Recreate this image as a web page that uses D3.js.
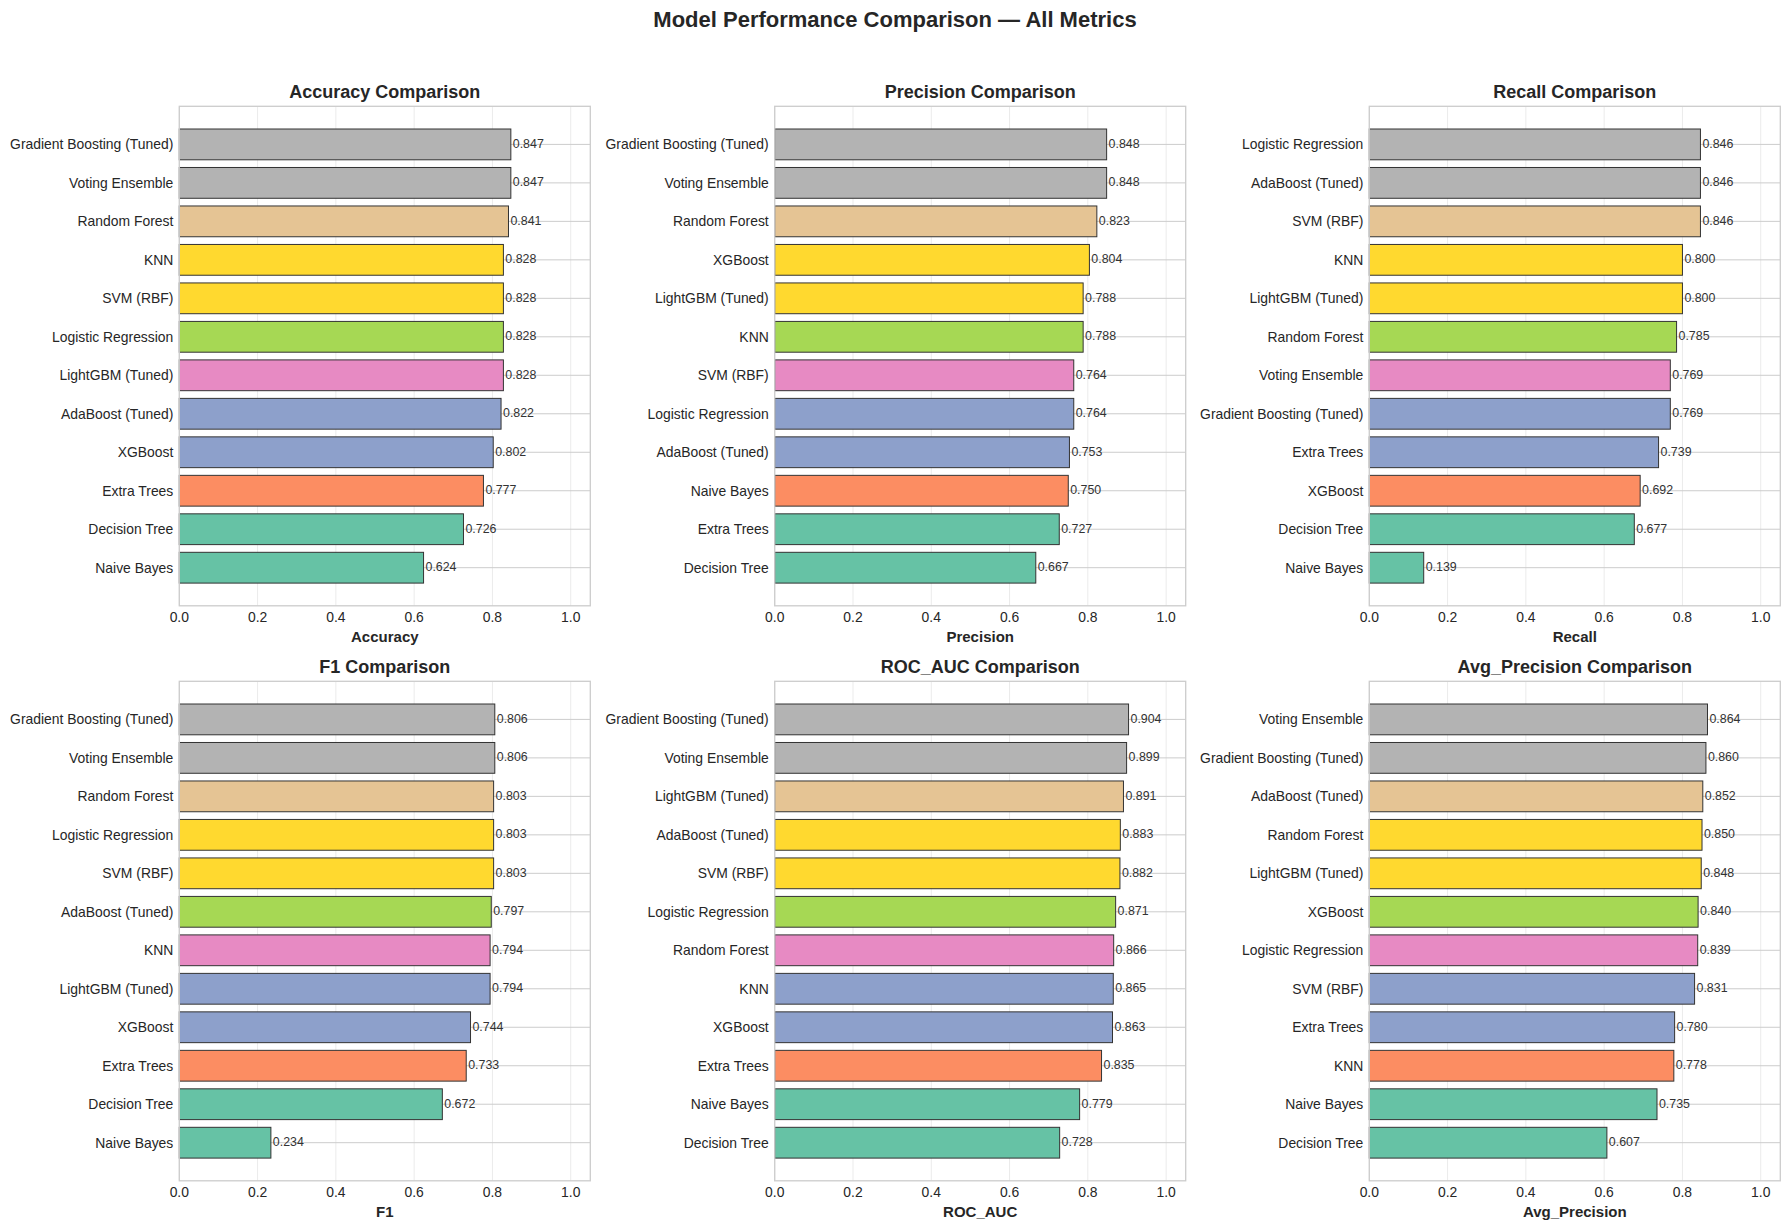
<!DOCTYPE html>
<html>
<head>
<meta charset="utf-8">
<script src="https://cdn.jsdelivr.net/npm/d3@7"></script>
<style>
  body { margin: 0; background: #fff; }
  svg { font-family: "Liberation Sans", Arial, sans-serif; }
</style>
</head>
<body>
<div id="chart"></div>
<script>
// models are listed top to bottom, as they appear in each panel
var accuracyModels = ['Gradient Boosting (Tuned)', 'Voting Ensemble', 'Random Forest', 'KNN', 'SVM (RBF)', 'Logistic Regression', 'LightGBM (Tuned)', 'AdaBoost (Tuned)', 'XGBoost', 'Extra Trees', 'Decision Tree', 'Naive Bayes'];
var accuracyValues = [0.847, 0.847, 0.841, 0.828, 0.828, 0.828, 0.828, 0.822, 0.802, 0.777, 0.726, 0.624];

var precisionModels = ['Gradient Boosting (Tuned)', 'Voting Ensemble', 'Random Forest', 'XGBoost', 'LightGBM (Tuned)', 'KNN', 'SVM (RBF)', 'Logistic Regression', 'AdaBoost (Tuned)', 'Naive Bayes', 'Extra Trees', 'Decision Tree'];
var precisionValues = [0.848, 0.848, 0.823, 0.804, 0.788, 0.788, 0.764, 0.764, 0.753, 0.750, 0.727, 0.667];

var recallModels = ['Logistic Regression', 'AdaBoost (Tuned)', 'SVM (RBF)', 'KNN', 'LightGBM (Tuned)', 'Random Forest', 'Voting Ensemble', 'Gradient Boosting (Tuned)', 'Extra Trees', 'XGBoost', 'Decision Tree', 'Naive Bayes'];
var recallValues = [0.846, 0.846, 0.846, 0.800, 0.800, 0.785, 0.769, 0.769, 0.739, 0.692, 0.677, 0.139];

var f1Models = ['Gradient Boosting (Tuned)', 'Voting Ensemble', 'Random Forest', 'Logistic Regression', 'SVM (RBF)', 'AdaBoost (Tuned)', 'KNN', 'LightGBM (Tuned)', 'XGBoost', 'Extra Trees', 'Decision Tree', 'Naive Bayes'];
var f1Values = [0.806, 0.806, 0.803, 0.803, 0.803, 0.797, 0.794, 0.794, 0.744, 0.733, 0.672, 0.234];

var rocModels = ['Gradient Boosting (Tuned)', 'Voting Ensemble', 'LightGBM (Tuned)', 'AdaBoost (Tuned)', 'SVM (RBF)', 'Logistic Regression', 'Random Forest', 'KNN', 'XGBoost', 'Extra Trees', 'Naive Bayes', 'Decision Tree'];
var rocValues = [0.904, 0.899, 0.891, 0.883, 0.882, 0.871, 0.866, 0.865, 0.863, 0.835, 0.779, 0.728];

var apModels = ['Voting Ensemble', 'Gradient Boosting (Tuned)', 'AdaBoost (Tuned)', 'Random Forest', 'LightGBM (Tuned)', 'XGBoost', 'Logistic Regression', 'SVM (RBF)', 'Extra Trees', 'KNN', 'Naive Bayes', 'Decision Tree'];
var apValues = [0.864, 0.860, 0.852, 0.850, 0.848, 0.840, 0.839, 0.831, 0.780, 0.778, 0.735, 0.607];

var metricNames = ['Accuracy', 'Precision', 'Recall', 'F1', 'ROC_AUC', 'Avg_Precision'];
var xTicks = [0, 0.2, 0.4, 0.6, 0.8, 1.0];

// Set2 colours by bar position, top to bottom
var barColors = ['#b3b3b3', '#b3b3b3', '#e5c494', '#ffd92f', '#ffd92f', '#a6d854', '#e78ac3', '#8da0cb', '#8da0cb', '#fc8d62', '#66c2a5', '#66c2a5'];

var metrics = [
    { name: metricNames[0], models: accuracyModels, values: accuracyValues },
    { name: metricNames[1], models: precisionModels, values: precisionValues },
    { name: metricNames[2], models: recallModels, values: recallValues },
    { name: metricNames[3], models: f1Models, values: f1Values },
    { name: metricNames[4], models: rocModels, values: rocValues },
    { name: metricNames[5], models: apModels, values: apValues }
];

var W = 1790, H = 1229;
var panelW = 411, panelH = 499.5;
var lefts = [179.3, 774.7, 1369.3];
var tops = [106.3, 681.3];

var svg = d3.select('#chart').append('svg')
    .attr('width', W)
    .attr('height', H);

svg.append('text')
    .attr('x', W / 2)
    .attr('y', 27)
    .attr('text-anchor', 'middle')
    .style('font-size', '22px')
    .style('font-weight', 'bold')
    .style('fill', '#262626')
    .text('Model Performance Comparison \u2014 All Metrics');

var x = d3.scaleLinear().domain([0, 1.05]).range([0, panelW]);

metrics.forEach(function (m, k) {
    var n = m.models.length;
    var pad = 0.05 * (n - 1 + 0.8);
    // index 0 at the top, like an inverted barh
    var y = d3.scaleLinear().domain([-0.4 - pad, n - 1 + 0.4 + pad]).range([0, panelH]);
    var barH = y(0.8) - y(0);

    var g = svg.append('g')
        .attr('transform', 'translate(' + lefts[k % 3] + ',' + tops[Math.floor(k / 3)] + ')');

    // vertical grid
    g.selectAll('.vgrid')
        .data(xTicks)
        .join('line')
        .attr('class', 'vgrid')
        .attr('x1', function (d) { return x(d); })
        .attr('x2', function (d) { return x(d); })
        .attr('y1', 0)
        .attr('y2', panelH)
        .style('stroke', '#ebebeb')
        .style('stroke-width', 1);

    // horizontal grid at each category
    g.selectAll('.hgrid')
        .data(m.values)
        .join('line')
        .attr('class', 'hgrid')
        .attr('x1', 0)
        .attr('x2', panelW)
        .attr('y1', function (d, i) { return y(i); })
        .attr('y2', function (d, i) { return y(i); })
        .style('stroke', '#cccccc')
        .style('stroke-width', 1);

    g.selectAll('.bar')
        .data(m.values)
        .join('rect')
        .attr('class', 'bar')
        .attr('x', x(0))
        .attr('y', function (d, i) { return y(i) - barH / 2; })
        .attr('width', function (d) { return x(d) - x(0); })
        .attr('height', barH)
        .style('fill', function (d, i) { return barColors[i]; })
        .style('stroke', '#333333')
        .style('stroke-width', 1);

    g.selectAll('.val')
        .data(m.values)
        .join('text')
        .attr('class', 'val')
        .attr('x', function (d) { return x(d + 0.005); })
        .attr('y', function (d, i) { return y(i); })
        .attr('dy', '0.28em')
        .style('font-size', '12.4px')
        .style('fill', '#333333')
        .text(function (d) { return d.toFixed(3); });

    // frame
    g.append('rect')
        .attr('width', panelW)
        .attr('height', panelH)
        .style('fill', 'none')
        .style('stroke', '#cccccc')
        .style('stroke-width', 1.3);

    // y tick labels
    g.selectAll('.ylab')
        .data(m.models)
        .join('text')
        .attr('class', 'ylab')
        .attr('x', -6)
        .attr('y', function (d, i) { return y(i); })
        .attr('dy', '0.35em')
        .attr('text-anchor', 'end')
        .style('font-size', '13.9px')
        .style('fill', '#262626')
        .text(function (d) { return d; });

    // x tick labels
    g.selectAll('.xlab')
        .data(xTicks)
        .join('text')
        .attr('class', 'xlab')
        .attr('x', function (d) { return x(d); })
        .attr('y', panelH + 16)
        .attr('text-anchor', 'middle')
        .style('font-size', '13.9px')
        .style('fill', '#262626')
        .text(function (d) { return d.toFixed(1); });

    g.append('text')
        .attr('x', panelW / 2)
        .attr('y', panelH + 36)
        .attr('text-anchor', 'middle')
        .style('font-size', '15px')
        .style('font-weight', 'bold')
        .style('fill', '#262626')
        .text(m.name);

    g.append('text')
        .attr('x', panelW / 2)
        .attr('y', -8.5)
        .attr('text-anchor', 'middle')
        .style('font-size', '18px')
        .style('font-weight', 'bold')
        .style('fill', '#262626')
        .text(m.name + ' Comparison');
});
</script>
</body>
</html>
